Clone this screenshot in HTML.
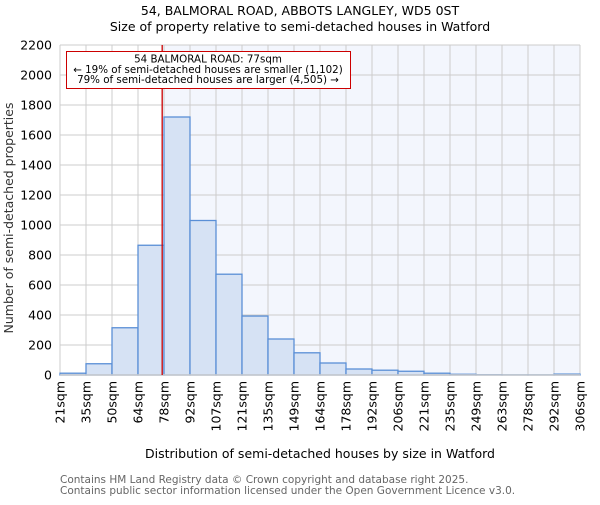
<!DOCTYPE html>
<html><head><meta charset="utf-8"><style>body{margin:0;background:#fff}svg{font-family:"DejaVu Sans","Liberation Sans",sans-serif}</style></head>
<body>
<svg id="chart" width="600" height="500" viewBox="0 0 600 500">
<text x="300" y="15" text-anchor="middle" font-size="12.5">54, BALMORAL ROAD, ABBOTS LANGLEY, WD5 0ST</text>
<text x="300" y="31" text-anchor="middle" font-size="12.5">Size of property relative to semi-detached houses in Watford</text>
<g id="plot"></g>
<text x="320" y="458" text-anchor="middle" font-size="12.5">Distribution of semi-detached houses by size in Watford</text>
<text transform="translate(13,218) rotate(-90)" text-anchor="middle" font-size="12.5" fill="#333">Number of semi-detached properties</text>
<text x="60" y="483" font-size="10.5" fill="#666">Contains HM Land Registry data © Crown copyright and database right 2025.</text>
<text x="60" y="494" font-size="10.5" fill="#666">Contains public sector information licensed under the Open Government Licence v3.0.</text>
</svg>
<script>
const binLabels=["21sqm","35sqm","50sqm","64sqm","78sqm","92sqm","107sqm","121sqm","135sqm","149sqm","164sqm","178sqm","192sqm","206sqm","221sqm","235sqm","249sqm","263sqm","278sqm","292sqm","306sqm"];
const counts=[12,75,315,865,1720,1030,672,393,240,148,80,40,32,25,12,5,2,1,1,6];
const yTicks=[0,200,400,600,800,1000,1200,1400,1600,1800,2000,2200];
const markerIndex=3.93;
const L=60,R=580,T=45,B=375,yMax=2200;
const NS="http://www.w3.org/2000/svg";
const g=document.getElementById('plot');
const bw=(R-L)/counts.length;
const x=i=>L+i*bw;
const y=v=>B-v/yMax*(B-T);
function mk(t,a){const e=document.createElementNS(NS,t);for(const k in a)e.setAttribute(k,a[k]);g.appendChild(e);return e;}
const mx=x(markerIndex);
let e=mk('rect',{x:mx,y:T,width:R-mx,height:B-T,fill:'#f3f6fd'});


yTicks.forEach(t=>{let l=mk('line',{x1:L,x2:R,y1:y(t),y2:y(t),stroke:'#cccccc','stroke-width':1});


let tx=mk('text',{x:L-8,y:y(t)+4.5,'text-anchor':'end','font-size':12.5});tx.textContent=t;

});
binLabels.forEach((s,i)=>{let l=mk('line',{x1:x(i),x2:x(i),y1:T,y2:B,stroke:'#cccccc','stroke-width':1});


let tx=mk('text',{transform:`translate(${x(i)+4.5},${B+6}) rotate(-90)`,'text-anchor':'end','font-size':12.5});tx.textContent=s;

});
counts.forEach((c,i)=>{let r=mk('rect',{x:x(i),y:y(c),width:bw,height:B-y(c),fill:'#d6e2f4',stroke:'#5a8fd6','stroke-width':1.3});

});
e=mk('line',{x1:L,x2:R,y1:B,y2:B,stroke:'#cccccc','stroke-width':1.5});


e=mk('line',{x1:mx,x2:mx,y1:T,y2:B,stroke:'#cc0000','stroke-width':1.3});


e=mk('rect',{x:66.5,y:51.5,width:284,height:37,fill:'#fff',stroke:'#cc0000','stroke-width':1});


["54 BALMORAL ROAD: 77sqm","← 19% of semi-detached houses are smaller (1,102)","79% of semi-detached houses are larger (4,505) →"].forEach((s,i)=>{let t=mk('text',{x:208,y:62.5+i*10.3,'text-anchor':'middle','font-size':10.3});t.textContent=s;

});
</script>
</body></html>
